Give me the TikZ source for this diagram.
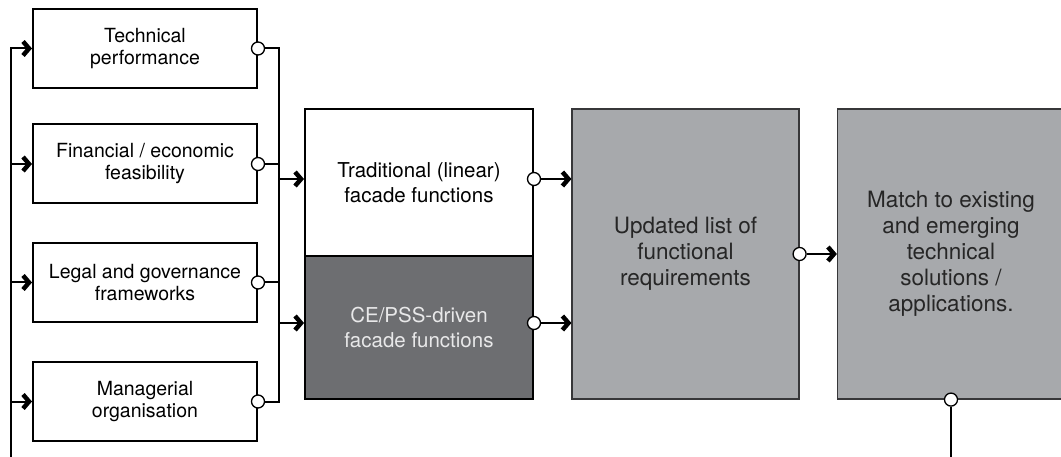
\documentclass[tikz,border=0pt]{standalone}
\usepackage{fontspec}
\setmainfont{TeX Gyre Heros}
\usetikzlibrary{positioning,arrows.meta,calc}
\definecolor{darkfill}{RGB}{109,110,113}
\definecolor{greyfill}{RGB}{167,169,172}
\definecolor{greyline}{RGB}{55,55,57}
\definecolor{lighttext}{RGB}{232,232,233}
\tikzset{
  aspect/.style={
    draw=black,
    line width=2pt,
    fill=white,
    minimum width=224pt,
    minimum height=79pt,
    inner sep=0pt,
    align=center,
    font=\fontsize{19.5}{22}\selectfont
  },
  func/.style={
    draw=black,
    line width=2pt,
    minimum width=228pt,
    inner sep=0pt,
    align=center,
    font=\fontsize{20.5}{25}\selectfont
  },
  stepbox/.style={
    draw=greyline,
    line width=1.2pt,
    fill=greyfill,
    minimum width=227pt,
    minimum height=290pt,
    inner sep=0pt,
    align=center,
    text=black!85,
    font=\fontsize{22.5}{26}\selectfont
  },
  port/.style={
    circle,
    draw=black,
    line width=1.3pt,
    fill=white,
    minimum size=13pt,
    inner sep=0pt
  },
  wire/.style={
    line width=2pt
  },
  flow/.style={
    wire,
    -{Straight Barb[length=6pt,width=14pt,line width=4.5pt 0 1,sharp]}
  }
}

\begin{document}
\begin{tikzpicture}[x=1pt,y=-1pt]
  \useasboundingbox (0,0) rectangle (1061,457);

  % Aspects
  \node[aspect] (tech)  at (145,48.5)  {Technical\\performance};
  \node[aspect] (fin)   at (145,164)   {Financial / economic\\feasibility};
  \node[aspect] (legal) at (145,282.5) {Legal and governance\\frameworks};
  \node[aspect] (mgmt)  at (145,401.5) {Managerial\\organisation};

  % Facade functions
  \node[func, fill=white, minimum height=147pt] (trad) at (419,182.5) {Traditional (linear)\\facade functions};
  \node[func, fill=darkfill, text=lighttext, minimum height=143pt] (ce) at (419,327.5) {CE/PSS-driven\\facade functions};

  % Steps
  \node[stepbox] (upd)   at (685.5,254) {Updated list of\\functional\\requirements};
  \node[stepbox] (match) at (951,254)   {Match to existing\\and emerging\\technical\\solutions /\\applications.};

  % Bus lines
  \coordinate (inL)  at (11,457);
  \coordinate (outR) at (279,0);
  \coordinate (outB) at (951,457);
  \coordinate (tradin) at ([yshift=3.5pt]trad.west);
  \coordinate (cein)   at ([yshift=4.5pt]ce.west);

  % Inputs
  \draw[flow] (inL) |- (tech.west);
  \foreach \n in {fin,legal,mgmt}
    \draw[flow] (inL |- \n.west) -- (\n.west);

  % Outputs
  \foreach \n in {tech,fin,legal,mgmt}
    \node[port] (\n-out) at (\n.east) {};
  \draw[wire] (tech-out) -| (outR |- mgmt-out) -- (mgmt-out);
  \draw[wire] (fin-out) -- (fin-out -| outR);
  \draw[wire] (legal-out) -- (legal-out -| outR);
  \draw[flow] (tradin -| outR) -- (tradin);
  \draw[flow] (cein -| outR) -- (cein);

  % Functions to steps
  \node[port] (trad-out) at ([yshift=3.5pt]trad.east) {};
  \node[port] (ce-out)   at ([yshift=4.5pt]ce.east) {};
  \draw[flow] (trad-out) -- (trad-out -| upd.west);
  \draw[flow] (ce-out) -- (ce-out -| upd.west);
  \node[port] (upd-out) at (upd.east) {};
  \draw[flow] (upd-out) -- (match.west);
  \node[port] (match-out) at (match.south) {};
  \draw[wire] (match-out) -- (outB);

\end{tikzpicture}
\end{document}
